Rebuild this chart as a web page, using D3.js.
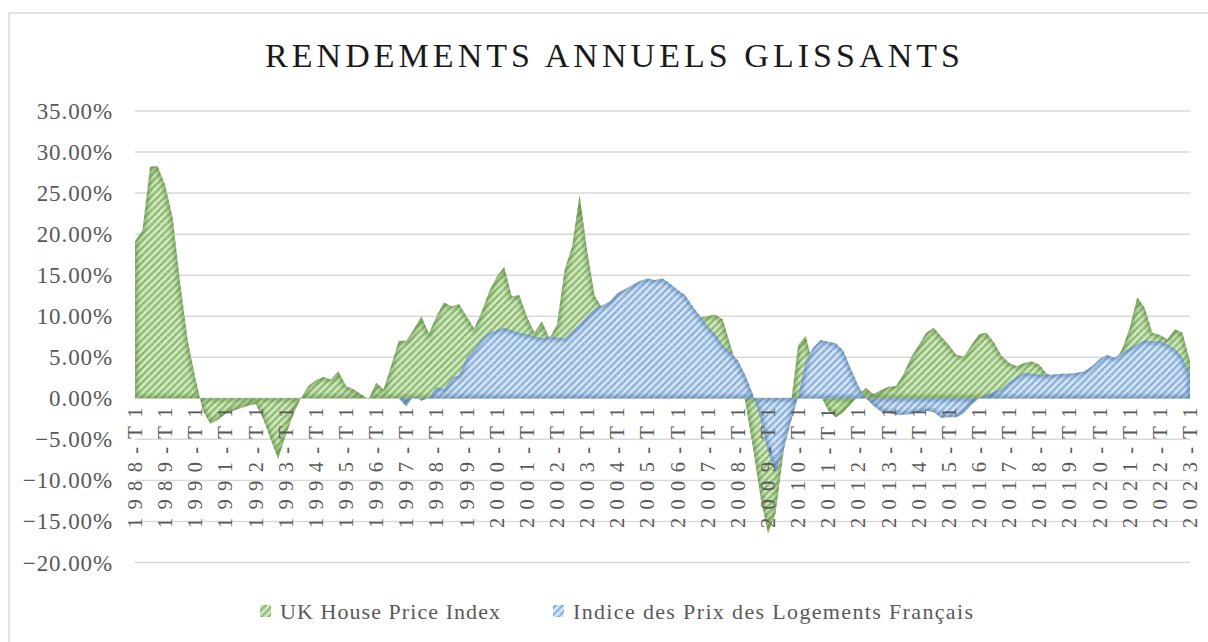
<!DOCTYPE html>
<html>
  <head>
  <meta charset="utf-8">
  <title>Rendements annuels glissants</title>
  </head>
  <body>

  <svg id="svg" width="1208" height="642"></svg>

  <script src="https://d3js.org/d3.v7.min.js"></script>
  <script>
        // quarterly rolling yearly returns, in %, 1988-T1 .. 2023-T1
        const firstYear = 1988
        const lastYear = 2023
        const yTicks = [-20, -15, -10, -5, 0, 5, 10, 15, 20, 25, 30, 35]
        const seriesNames = ['UK House Price Index', 'Indice des Prix des Logements Français']

        const ukReturns = [
            19.1, 20.5, 28.2, 28.3, 26.0, 22.0, 14.0, 7.0, 2.5, -1.5,
            -3.1, -2.6, -1.9, -1.5, -1.2, -0.9, -0.7, -2.5, -5.0, -7.4,
            -4.5, -2.0, 0.0, 1.5, 2.2, 2.6, 2.3, 3.3, 1.5, 1.1,
            0.5, -0.1, 1.9, 1.1, 4.0, 7.0, 7.0, 8.4, 10.0, 7.9,
            10.0, 11.7, 11.2, 11.5, 10.0, 8.5, 10.5, 13.0, 14.8, 16.0,
            12.4, 12.6, 10.0, 8.0, 9.4, 7.3, 9.0, 15.6, 18.5, 24.8,
            18.0, 12.5, 11.0, 11.5, 12.0, 12.0, 10.5, 8.0, 6.0, 5.0,
            5.5, 6.5, 7.5, 8.5, 9.2, 9.8, 10.0, 10.2, 9.6, 6.5,
            3.5, -0.5, -6.0, -12.0, -16.5, -14.0, -7.0, -1.0, 6.5, 7.6,
            4.0, 0.3, -1.5, -2.3, -1.7, -0.7, 0.3, 1.3, 0.5, 1.0,
            1.4, 1.5, 3.0, 5.0, 6.5, 8.0, 8.6, 7.5, 6.5, 5.3,
            5.1, 6.5, 7.8, 8.0, 6.8, 5.2, 4.3, 3.9, 4.3, 4.5,
            4.1, 3.0, 2.7, 2.8, 2.8, 2.9, 3.1, 3.6, 4.5, 4.6,
            4.4, 6.0, 8.6, 12.3, 11.0, 8.0, 7.7, 7.2, 8.4, 8.0,
            4.5
        ]

        const frReturns = [
            null, null, null, null, null, null, null, null, null, null,
            null, null, null, null, null, null, null, null, null, null,
            null, null, null, null, null, null, null, null, null, null,
            null, null, null, null, null, 0.0, -1.0, 0.3, -0.3, 0.0,
            1.4, 1.1, 2.5, 2.8, 5.0, 6.0, 7.2, 8.0, 8.3, 8.6,
            8.3, 8.0, 7.8, 7.6, 7.3, 7.5, 7.4, 7.3, 8.2, 9.0,
            10.0, 10.9, 11.3, 11.8, 12.8, 13.3, 13.8, 14.3, 14.6, 14.4,
            14.6, 14.0, 13.2, 12.6, 11.2, 10.0, 8.8, 7.8, 6.5, 5.6,
            4.6, 2.8, 0.5, -2.5, -6.5, -9.0, -6.5, -3.0, 0.2, 4.5,
            6.2, 7.1, 6.9, 6.7, 5.8, 3.6, 1.5, 0.0, -0.9, -1.6,
            -1.8, -2.0, -2.0, -1.9, -1.7, -1.5, -1.7, -2.4, -2.3, -2.3,
            -1.8, -0.8, 0.0, 0.4, 0.8, 1.2, 2.0, 2.6, 3.1, 3.0,
            2.9, 2.8, 2.9, 3.0, 3.0, 3.1, 3.3, 3.9, 4.8, 5.3,
            4.9, 5.6, 6.1, 6.6, 7.1, 6.9, 7.0, 6.6, 6.0, 5.0,
            2.8
        ]

        // one label per quarter, only the T1 ones are written on the axis
        const quarters = []
        for (let yr = firstYear; yr <= lastYear; yr++) {
            for (let q = 1; q <= 4; q++) {
                if (yr === lastYear && q > 1) break
                quarters.push(yr + '-T' + q)
            }
        }

        const font = '"Liberation Serif", "Times New Roman", serif'
        const svg = d3.select('#svg')

        const xscale = d3.scaleLinear()
            .domain([0, quarters.length - 1])
            .range([135, 1190])
        const yscale = d3.scaleLinear()
            .domain([-20, 35])
            .range([562.5, 111])

        // chart frame
        svg.append('rect')
            .attr('x', 9).attr('y', 13)
            .attr('width', 1215).attr('height', 650)
            .attr('fill', 'white')
            .attr('stroke', '#d9d9d9')
            .attr('stroke-width', 1.5)

        // hatch patterns
        const defs = svg.append('defs')
        function makeHatch(id, bg, light, stripe) {
            const p = defs.append('pattern')
                .attr('id', id)
                .attr('width', 5).attr('height', 5)
                .attr('patternUnits', 'userSpaceOnUse')
                .attr('patternTransform', 'rotate(45)')
            p.append('rect').attr('width', 5).attr('height', 5).attr('fill', bg)
            p.append('line')
                .attr('x1', 3.5).attr('y1', 0).attr('x2', 3.5).attr('y2', 5)
                .attr('stroke', light).attr('stroke-width', 1.2)
            p.append('line')
                .attr('x1', 1).attr('y1', 0).attr('x2', 1).attr('y2', 5)
                .attr('stroke', stripe).attr('stroke-width', 1.3)
                .attr('stroke-dasharray', '1.6 0.9')
        }
        makeHatch('hatchUK', '#b8d9a1', '#e4f2d8', '#558f35')
        makeHatch('hatchFR', '#bcd5ee', '#e6f0fa', '#4a80c0')

        defs.append('filter')
            .attr('id', 'soft')
            .attr('x', '-5%').attr('y', '-5%').attr('width', '110%').attr('height', '110%')
            .append('feGaussianBlur')
            .attr('stdDeviation', 2)

        // gridlines
        svg.append('g')
            .selectAll('line')
            .data(yTicks)
            .join('line')
            .attr('x1', 135).attr('x2', 1190)
            .attr('y1', d => yscale(d)).attr('y2', d => yscale(d))
            .attr('stroke', '#d9d9d9')
            .attr('stroke-width', 1.5)

        // areas
        const areagen = d3.area()
            .defined(d => d !== null)
            .x((d, i) => xscale(i))
            .y0(yscale(0))
            .y1(d => yscale(d))
            .curve(d3.curveLinear)

        function drawArea(values, key, fill, edge) {
            const d = areagen(values)
            defs.append('clipPath')
                .attr('id', 'clip' + key)
                .append('path')
                .attr('d', d)
            svg.append('path')
                .attr('d', d)
                .attr('fill', 'url(#' + fill + ')')
            svg.append('path')
                .attr('d', d)
                .attr('fill', 'none')
                .attr('stroke', edge)
                .attr('stroke-opacity', 0.6)
                .attr('stroke-width', 5)
                .attr('filter', 'url(#soft)')
                .attr('clip-path', 'url(#clip' + key + ')')
        }
        drawArea(ukReturns, 'UK', 'hatchUK', '#4d7f2e')
        drawArea(frReturns, 'FR', 'hatchFR', '#3a6799')

        // y labels
        svg.append('g')
            .selectAll('text')
            .data(yTicks)
            .join('text')
            .attr('x', 113)
            .attr('y', d => yscale(d) + 8)
            .attr('text-anchor', 'end')
            .attr('font-family', font)
            .attr('font-size', 23)
            .attr('letter-spacing', 0.9)
            .attr('fill', '#595959')
            .text(d => d3.format('.2f')(d) + '%')

        // x labels, one per year
        const yearTicks = quarters.map((q, i) => ({ q, i })).filter(d => d.q.endsWith('T1'))
        svg.append('g')
            .selectAll('text')
            .data(yearTicks)
            .join('text')
            .attr('transform', d => `translate(${xscale(d.i) + 7},528) rotate(-90)`)
            .attr('text-anchor', 'start')
            .attr('font-family', font)
            .attr('font-size', 20.5)
            .attr('letter-spacing', 8.3)
            .attr('fill', '#595959')
            .text(d => d.q)

        // title
        svg.append('text')
            .attr('x', 265).attr('y', 67)
            .attr('font-family', font)
            .attr('font-size', 34)
            .attr('textLength', 695)
            .attr('lengthAdjust', 'spacing')
            .attr('fill', '#1a1a1a')
            .text('RENDEMENTS ANNUELS GLISSANTS')

        // legend
        const legendItems = [
            { name: seriesNames[0], fill: 'hatchUK', mx: 260, tx: 280, len: 220 },
            { name: seriesNames[1], fill: 'hatchFR', mx: 553, tx: 573, len: 400 }
        ]
        const lg = svg.append('g')
            .selectAll('g')
            .data(legendItems)
            .join('g')
        lg.append('rect')
            .attr('x', d => d.mx).attr('y', 605)
            .attr('width', 11).attr('height', 12)
            .attr('fill', d => 'url(#' + d.fill + ')')
        lg.append('text')
            .attr('x', d => d.tx).attr('y', 619)
            .attr('font-family', font)
            .attr('font-size', 22)
            .attr('textLength', d => d.len)
            .attr('lengthAdjust', 'spacing')
            .attr('fill', '#595959')
            .text(d => d.name)
  </script>
  <style>
    body, html {
      margin: 0;
      padding: 0;
      background: white;
    }
    #svg {
      display: block;
    }
  </style>
  </body>
</html>
